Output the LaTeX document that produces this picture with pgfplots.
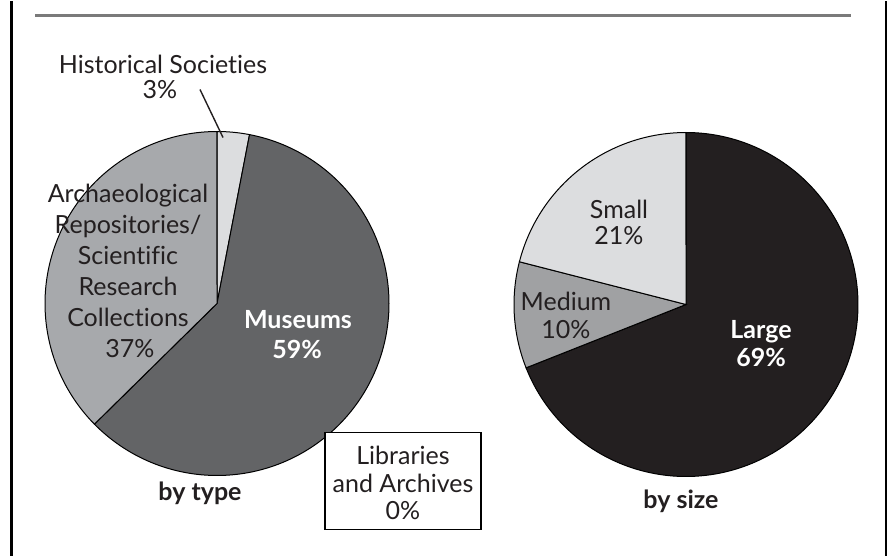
\documentclass[border=0pt]{standalone}
\usepackage{pgfplots}
\pgfplotsset{compat=1.18}
\usepackage{fontspec}
\setmainfont[Ligatures=NoCommon]{Lato}

\definecolor{txt}{HTML}{231F20}
\definecolor{cMus}{HTML}{636466}
\definecolor{cArch}{HTML}{A7A9AC}
\definecolor{cHist}{HTML}{DCDDDF}
\definecolor{cLarge}{HTML}{231F20}
\definecolor{cMed}{HTML}{A0A1A3}
\definecolor{cSmall}{HTML}{DCDDDF}
\definecolor{rule}{HTML}{7A7A7A}

% shares in percent
\def\vHist{3}   \def\vMus{59}  \def\vLib{0}  \def\vArch{37}
\def\vLarge{69} \def\vMed{10}  \def\vSmall{21}

% one line of text, centred on x, base on y (pixel coordinates)
\newcommand{\lbl}[3][]{\node[anchor=base, inner sep=0pt, text=txt, font=\fontsize{12.5}{14}\selectfont, #1] at (axis cs:#2) {#3};}

\begin{document}
\begin{tikzpicture}
% wedge angles, clockwise from the top
\pgfmathsetmacro{\tot}{\vHist+\vMus+\vLib+\vArch}
\pgfmathsetmacro{\aA}{90-\vHist/\tot*360}
\pgfmathsetmacro{\aB}{\aA-\vMus/\tot*360}
\pgfmathsetmacro{\aC}{\aB-\vLib/\tot*360}
\pgfmathsetmacro{\aD}{\aC-\vArch/\tot*360}
\pgfmathsetmacro{\totb}{\vLarge+\vMed+\vSmall}
\pgfmathsetmacro{\bA}{90-\vLarge/\totb*360}
\pgfmathsetmacro{\bB}{\bA-\vMed/\totb*360}
\pgfmathsetmacro{\bC}{\bB-\vSmall/\totb*360}
\begin{axis}[
    scale only axis,
    width=444pt, height=277pt,
    xmin=0, xmax=888, ymin=0, ymax=554,
    y dir=reverse,
    hide axis,
    clip=false,
]
\path (axis cs:0,0) rectangle (axis cs:888,554);

% frame
\draw[black, line width=1.5pt] (axis cs:11,0) -- (axis cs:11,554);
\draw[black, line width=0.8pt] (axis cs:886,0) -- (axis cs:886,554);
\draw[rule, line width=1.1pt] (axis cs:35,14) -- (axis cs:851,14);

% ---- by type
\addplot[fill=cHist, draw=black, line width=0.5pt, domain=\aA:90, samples=20, variable=\t]
    ({217+172*cos(t)}, {302-172*sin(t)}) -- (axis cs:217,302) -- cycle;
\addplot[fill=cMus, draw=black, line width=0.5pt, domain=\aB:\aA, samples=150, variable=\t]
    ({217+172*cos(t)}, {302-172*sin(t)}) -- (axis cs:217,302) -- cycle;
\addplot[fill=cArch, draw=black, line width=0.5pt, domain=\aD:\aC, samples=100, variable=\t]
    ({217+172*cos(t)}, {302-172*sin(t)}) -- (axis cs:217,302) -- cycle;

% ---- by size
\addplot[fill=cLarge, draw=black, line width=0.5pt, domain=\bA:90, samples=160, variable=\t]
    ({686+172*cos(t)}, {303-172*sin(t)}) -- (axis cs:686,303) -- cycle;
\addplot[fill=cMed, draw=black, line width=0.5pt, domain=\bB:\bA, samples=30, variable=\t]
    ({686+172*cos(t)}, {303-172*sin(t)}) -- (axis cs:686,303) -- cycle;
\addplot[fill=cSmall, draw=black, line width=0.5pt, domain=\bC:\bB, samples=60, variable=\t]
    ({686+172*cos(t)}, {303-172*sin(t)}) -- (axis cs:686,303) -- cycle;

% ---- labels, by type
\lbl{163,72}{Historical Societies}
\lbl{160,97}{\vHist\%}
\draw[txt, line width=0.7pt] (axis cs:200,88) -- (axis cs:223,136);
\lbl{128,201}{Archaeological}
\lbl{128,232}{Repositories/}
\lbl{128,263}{Scientific}
\lbl{128,294}{Research}
\lbl{128,325}{Collections}
\lbl{130,356}{\vArch\%}
\lbl[text=white, font=\fontsize{12.5}{14}\selectfont\bfseries]{298,327}{Museums}
\lbl[text=white, font=\fontsize{12.5}{14}\selectfont\bfseries]{297,357}{\vMus\%}
\draw[black, fill=white, line width=0.6pt] (axis cs:325,431) rectangle (axis cs:481,528);
\lbl{403,463}{Libraries}
\lbl{403,491}{and Archives}
\lbl{403,518}{\vLib\%}
\lbl[font=\fontsize{12.5}{14}\selectfont\bfseries]{200,499}{by type}

% ---- labels, by size
\lbl{619,217}{Small}
\lbl{619,243}{\vSmall\%}
\lbl{566,309}{Medium}
\lbl{566,337}{\vMed\%}
\lbl[text=white, font=\fontsize{12.5}{14}\selectfont\bfseries]{761,337}{Large}
\lbl[text=white, font=\fontsize{12.5}{14}\selectfont\bfseries]{761,365}{\vLarge\%}
\lbl[font=\fontsize{12.5}{14}\selectfont\bfseries]{681,507}{by size}
\end{axis}
\end{tikzpicture}
\end{document}
